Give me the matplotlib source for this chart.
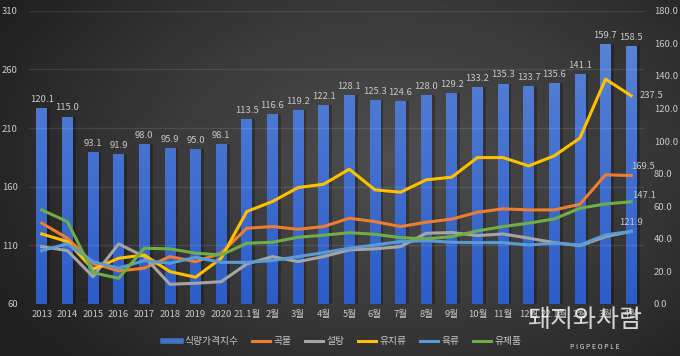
import numpy as np
import matplotlib
matplotlib.use('Agg')
import matplotlib.pyplot as plt
from matplotlib.lines import Line2D
from matplotlib.colors import LinearSegmentedColormap

plt.rcParams['font.family'] = ['Noto Sans CJK KR', 'DejaVu Sans']

# x축 라벨
labels = ['2013', '2014', '2015', '2016', '2017', '2018', '2019', '2020',
          '21.1월', '2월', '3월', '4월', '5월', '6월', '7월', '8월', '9월',
          '10월', '11월', '12월', '22.1월', '2월', '3월', '4월']

# 식량가격지수 (막대, 오른쪽 축)
food_idx = [120.1, 115.0, 93.1, 91.9, 98.0, 95.9, 95.0, 98.1,
            113.5, 116.6, 119.2, 122.1, 128.1, 125.3, 124.6, 128.0, 129.2,
            133.2, 135.3, 133.7, 135.6, 141.1, 159.7, 158.5]

# 품목별 지수 (선, 왼쪽 축)
cereals = [128.9, 116.1, 94.7, 88.2, 90.5, 100.4, 96.1, 103.3,
           124.6, 126.0, 123.7, 126.0, 133.1, 130.2, 126.0, 129.7, 132.3,
           138.2, 141.1, 140.2, 140.2, 145.0, 170.1, 169.5]
sugar = [108.9, 105.5, 83.3, 111.2, 100.4, 76.8, 77.7, 79.0,
         94.1, 100.4, 96.1, 100.4, 106.1, 107.0, 108.9, 120.3, 120.9,
         118.3, 119.7, 116.1, 112.3, 109.7, 117.4, 121.9]
veg_oil = [119.7, 113.2, 89.6, 99.0, 101.8, 87.6, 82.8, 99.0,
           138.8, 147.3, 159.2, 162.1, 174.9, 157.3, 155.3, 165.8, 168.1,
           184.8, 184.8, 177.7, 186.3, 201.4, 251.7, 237.5]
meat = [105.5, 111.2, 96.1, 90.5, 97.0, 94.7, 99.8, 95.5,
        95.5, 97.0, 100.4, 103.8, 107.5, 110.3, 113.2, 114.0, 112.6,
        112.3, 112.3, 110.3, 111.8, 110.3, 118.9, 121.9]
dairy = [140.2, 130.2, 86.7, 81.9, 107.5, 107.0, 103.3, 101.8,
         111.8, 112.6, 116.9, 118.6, 120.8, 119.4, 116.6, 115.5, 117.4,
         122.3, 126.0, 128.9, 132.5, 141.6, 145.3, 147.1]

series = [('곡물', cereals, '#ED7D31'),
          ('설탕', sugar, '#A5A5A5'),
          ('유지류', veg_oil, '#FFC000'),
          ('육류', meat, '#5B9BD5'),
          ('유제품', dairy, '#70AD47')]

txt_col = '#c8c8c8'
x = np.arange(len(labels))

fig = plt.figure(figsize=(6.8, 3.56), dpi=100)

# 배경 그라데이션
bg = fig.add_axes([0, 0, 1, 1], zorder=-10)
gx, gy = np.meshgrid(np.linspace(0, 1, 340), np.linspace(0, 1, 178))
d = np.sqrt(((gx - 0.58) / 0.75) ** 2 + ((gy - 0.45) / 0.95) ** 2)
bg_cmap = LinearSegmentedColormap.from_list('bg', ['#4e4e4e', '#3a3a3a', '#1f1f1f'])
bg.imshow(d, cmap=bg_cmap, vmin=0, vmax=0.9, aspect='auto', extent=[0, 1, 0, 1])
bg.axis('off')

ax = fig.add_axes([0.0426, 0.1461, 0.9044, 0.8239])
ax.set_facecolor('none')
ax2 = ax.twinx()

# 막대 (오른쪽 축)
ax.bar(x + 0.12, food_idx, width=0.42, color='black', alpha=0.25, zorder=1)
bars = ax.bar(x, food_idx, width=0.42, color='#4472C4', zorder=2)
bar_cmap = LinearSegmentedColormap.from_list('bar', ['#2c5cc8', '#5d87d8'])
grad = np.linspace(0, 1, 100).reshape(-1, 1)
for b in bars:
    im = ax.imshow(grad, cmap=bar_cmap, origin='lower', aspect='auto', zorder=3,
                   extent=[b.get_x(), b.get_x() + b.get_width(), 0, 180])
    im.set_clip_path(b)
for xi, v in zip(x, food_idx):
    ax.annotate(f'{v:.1f}', (xi, v), xytext=(0, 3), textcoords='offset points',
                ha='center', va='bottom', fontsize=6.8, color=txt_col)

ax.set_xlim(-0.5, len(labels) - 0.5)
ax.set_ylim(0, 180)
ax.set_yticks(np.arange(0, 181, 20))
ax.set_yticklabels([f'{v:.1f}' for v in np.arange(0, 181, 20)])
ax.yaxis.tick_right()
ax.set_xticks(x)
ax.set_xticklabels(labels)
ax.tick_params(axis='both', length=0, colors=txt_col, labelsize=6.8)
ax.tick_params(axis='x', pad=4)
ax.tick_params(axis='y', pad=7)
for s in ax.spines.values():
    s.set_visible(False)

# 선 (왼쪽 축)
ax2.set_ylim(60, 310)
ax2.set_yticks(np.arange(60, 311, 50))
ax2.yaxis.tick_left()
ax2.tick_params(axis='y', length=0, colors=txt_col, labelsize=6.8, pad=8)
ax2.grid(axis='y', color='white', alpha=0.1, lw=1)
for s in ax2.spines.values():
    s.set_visible(False)
for name, vals, c in series:
    ax2.plot(x, vals, color=c, lw=2.2, zorder=5, solid_joinstyle='round')

last = len(labels) - 1
ax2.annotate(f'{veg_oil[-1]:.1f}', (last, veg_oil[-1]), xytext=(6, 0),
             textcoords='offset points', ha='left', va='center', fontsize=6.8, color=txt_col)
ax2.annotate(f'{cereals[-1]:.1f}', (last, cereals[-1]), xytext=(0, 3),
             textcoords='offset points', ha='left', va='bottom', fontsize=6.8, color=txt_col)
ax2.annotate(f'{dairy[-1]:.1f}', (last, dairy[-1]), xytext=(1, 1),
             textcoords='offset points', ha='left', va='bottom', fontsize=6.8, color=txt_col)
ax2.annotate(f'{meat[-1]:.1f}', (last, meat[-1]), xytext=(0, 3),
             textcoords='offset points', ha='center', va='bottom', fontsize=6.8, color=txt_col)

# 범례
handles = [Line2D([], [], color='#4472C4', lw=4)]
names = ['식량가격지수']
for name, vals, c in series:
    handles.append(Line2D([], [], color=c, lw=2.2))
    names.append(name)
fig.legend(handles, names, loc='center', bbox_to_anchor=(0.503, 0.042), ncol=6,
           frameon=False, fontsize=7, labelcolor=txt_col, handlelength=1.9,
           handletextpad=0.3, columnspacing=1.4)

# 워터마크
fig.text(0.86, 0.1, '돼지와사람', fontsize=18, color='white',
         alpha=0.8, ha='center', va='center')
fig.text(0.875, 0.025, 'P I G P E O P L E', fontsize=5, color='#dddddd',
         ha='center', va='center')

fig.savefig('out.png', dpi=100)
